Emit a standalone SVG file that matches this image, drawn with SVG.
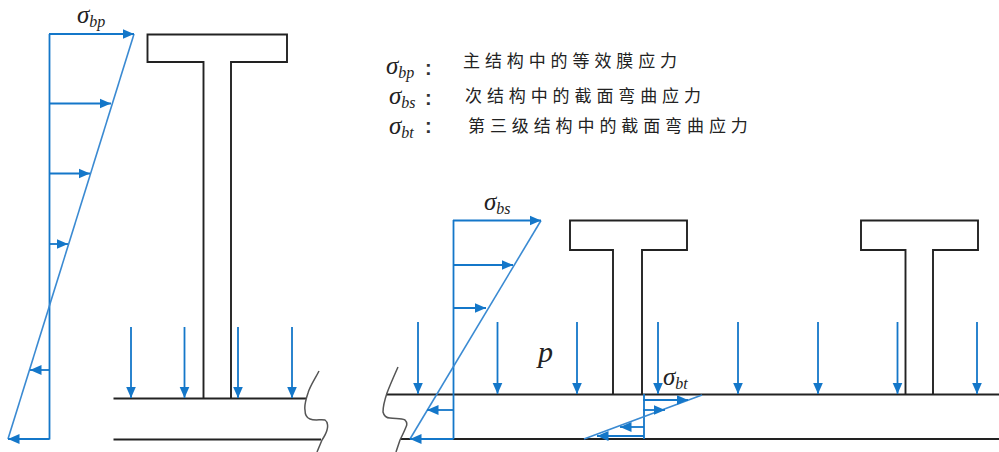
<svg xmlns="http://www.w3.org/2000/svg" width="999" height="452" viewBox="0 0 999 452">
<style>
.k{fill:none;stroke:#222;stroke-width:1.9;stroke-linejoin:miter}
.sq{fill:none;stroke:#555;stroke-width:1.5}
.b{fill:none;stroke:#1477c9;stroke-width:1.8}
.s{fill:none;stroke:#3a8ad2;stroke-width:1.6}
.a{fill:none;stroke:#1477c9;stroke-width:1.8;marker-end:url(#ah)}
.g{font-family:"Liberation Serif",serif;font-style:italic;font-size:25px;fill:#222}
.g tspan{font-size:16px}
.c{font-family:"Noto Sans CJK SC","Liberation Sans",sans-serif;font-size:17px;letter-spacing:4.9px;fill:#222}
.d{font-family:"Liberation Sans",sans-serif;font-size:20px;font-weight:bold;fill:#333}
</style>
<defs>
<marker id="ah" markerUnits="userSpaceOnUse" markerWidth="12" markerHeight="12" refX="11.5" refY="6" orient="auto">
<path d="M0,1 L11.5,6 L0,11 Z" fill="#1477c9"/>
</marker>
</defs>
<rect width="999" height="452" fill="#fff"/>

<g id="beam-left">
<path class="k" d="M203.5,398.5 V62 H147.5 V34.5 H287 V62 H231 V398.5"/>
<path class="k" d="M113.5,398.5 H306 M113.5,439.5 H321"/>
<path class="sq" d="M319,371 C315,379 310,386 308,393 C306,399 304,405 305,410 C305,415 307,418 310,419 C315,421 321,419 325,420 C328,422 328,427 327,430 C326,434 324,437 322,440 L317,452"/>
</g>

<g id="beam-right-a">
<path class="k" d="M613,394.5 V250 H570 V220.5 H687 V250 H642 V394.5"/>
</g>
<g id="beam-right-b">
<path class="k" d="M905.5,394.5 V250 H861 V220.5 H978 V250 H933 V394.5"/>
</g>
<g id="slab-right">
<path class="k" d="M386,394.5 H999 M400,439 H999"/>
<path class="sq" d="M398,367 C394,376 390,385 387,393 C385,399 383,406 383,412 C384,416 387,418 390,418 C395,419 401,418 405,420 C407,422 407,425 406,427 C404,432 402,436 400,440 L396,452"/>
</g>

<g id="connectors">
<path class="b" d="M49.5,34 V439.5"/>
<path class="s" d="M134,34 L8,439"/>
<path class="a" d="M49,34 H134"/>
<path class="a" d="M49,103.5 H111"/>
<path class="a" d="M49,173.5 H90"/>
<path class="a" d="M49,244 H68"/>
<path class="a" d="M49.5,370 H30"/>
<path class="a" d="M49.5,439 H8"/>
<path class="a" d="M131,327 V398"/>
<path class="a" d="M184.5,327 V398"/>
<path class="a" d="M238,327 V398"/>
<path class="a" d="M292,327 V398"/>

<path class="b" d="M453.5,220 V439"/>
<path class="s" d="M541,220.5 L410,439"/>
<path class="a" d="M453,220.5 H541"/>
<path class="a" d="M453,265 H513"/>
<path class="a" d="M453,308 H486"/>
<path class="a" d="M453.5,410 H427"/>
<path class="a" d="M453.5,439 H410"/>
<path class="a" d="M418,322 V394"/>
<path class="a" d="M497.5,322 V394"/>
<path class="a" d="M577,322 V394"/>
<path class="a" d="M658,322 V394"/>
<path class="a" d="M738,322 V394"/>
<path class="a" d="M818,322 V394"/>
<path class="a" d="M897.5,322 V394"/>
<path class="a" d="M977,322 V394"/>

<path class="b" d="M644,394 V439"/>
<path class="s" d="M702,395 L584,439"/>
<path class="a" d="M643,400 H688"/>
<path class="a" d="M643,410 H665"/>
<path class="a" d="M644,427 H620"/>
<path class="a" d="M644,436 H597"/>
</g>

<g id="labels">
<text class="g" x="77" y="23">σ<tspan dy="4">bp</tspan></text>
<text class="g" x="484" y="210">σ<tspan dy="4">bs</tspan></text>
<text class="g" x="663" y="385">σ<tspan dy="4">bt</tspan></text>
<text x="538" y="362" style="font-family:'Liberation Serif',serif;font-style:italic;font-size:30px;fill:#222">p</text>

<text class="g" x="386" y="74">σ<tspan dy="4">bp</tspan></text>
<text class="d" x="425" y="75">:</text>
<text class="c" x="463" y="67">主结构中的等效膜应力</text>

<text class="g" x="389" y="104">σ<tspan dy="4">bs</tspan></text>
<text class="d" x="425" y="105">:</text>
<text class="c" x="465" y="102">次结构中的截面弯曲应力</text>

<text class="g" x="389" y="134">σ<tspan dy="4">bt</tspan></text>
<text class="d" x="425" y="133">:</text>
<text class="c" x="468" y="132">第三级结构中的截面弯曲应力</text>
</g>
</svg>
